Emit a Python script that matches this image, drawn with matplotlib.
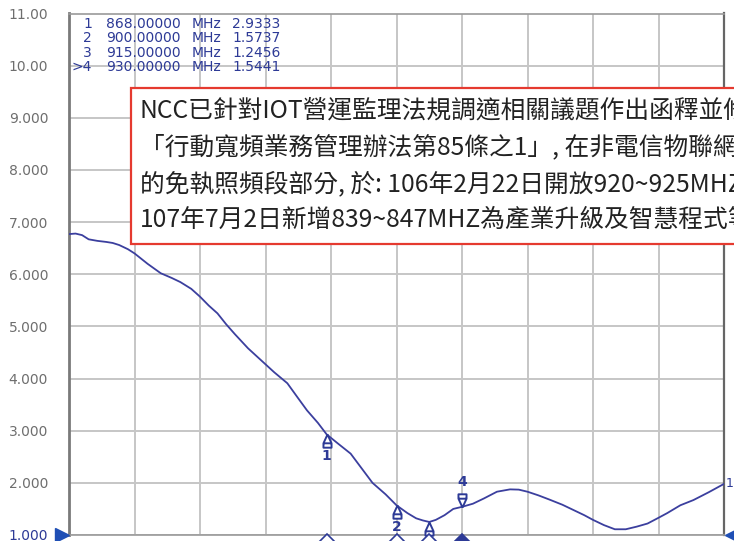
import matplotlib
matplotlib.use("Agg")
import matplotlib.pyplot as plt
import numpy as np
from matplotlib.patches import Rectangle
from matplotlib.path import Path
from matplotlib.transforms import blended_transform_factory

# =========================
# DATA
# =========================
freq_mhz = [750, 753, 756, 759, 763, 767, 770, 773, 777, 780, 786, 792, 797, 801,
            806, 810, 814, 818, 822, 826, 832, 838, 844, 850, 855, 859, 864, 868,
            873, 879, 884, 889, 895, 900, 905, 909, 912, 915, 918, 922, 926, 930,
            935, 940, 946, 952, 956, 960, 965, 970, 976, 981, 986, 990, 995, 1000,
            1005, 1010, 1015, 1020, 1024, 1030, 1036, 1043, 1050]
vswr = [6.77, 6.78, 6.75, 6.67, 6.64, 6.62, 6.60, 6.56, 6.48, 6.40, 6.20, 6.02, 5.93, 5.85,
        5.72, 5.57, 5.40, 5.25, 5.04, 4.85, 4.58, 4.35, 4.12, 3.91, 3.62, 3.39, 3.15, 2.93,
        2.76, 2.56, 2.28, 2.00, 1.78, 1.57, 1.42, 1.32, 1.28, 1.25, 1.29, 1.38, 1.50, 1.54,
        1.60, 1.70, 1.83, 1.875, 1.87, 1.83, 1.76, 1.68, 1.58, 1.48, 1.38, 1.29, 1.19, 1.11,
        1.11, 1.16, 1.22, 1.33, 1.42, 1.57, 1.67, 1.82, 1.98]

marker_ids = ["1", "2", "3", ">4"]
marker_freq = [868.0, 900.0, 915.0, 930.0]
marker_val = [2.9333, 1.5737, 1.2456, 1.5441]

y_ticks = [1, 2, 3, 4, 5, 6, 7, 8, 9, 10, 11]
y_tick_labels = ["1.000", "2.000", "3.000", "4.000", "5.000", "6.000",
                 "7.000", "8.000", "9.000", "10.00", "11.00"]

note_lines = [
    "NCC已針對IOT營運監理法規調適相關議題作出函釋並修",
    "「行動寬頻業務管理辦法第85條之1」, 在非電信物聯網",
    "的免執照頻段部分, 於: 106年2月22日開放920~925MHZ",
    "107年7月2日新增839~847MHZ為產業升級及智慧程式等",
]

# =========================
# STYLE
# =========================
W, H = 734, 541
TRACE = "#3b3f9e"
MARK = "#2d3a96"
GRID = "#c6c6c6"


def fx(px):
    return px / W


def fy(py):
    return 1 - py / H


fig = plt.figure(figsize=(W / 100, H / 100), dpi=100, facecolor="white")
ax = fig.add_axes([fx(69), fy(535), fx(724) - fx(69), fy(13.5) - fy(535)])

# =========================
# GRID / AXES
# =========================
ax.set_xlim(750, 1050)
ax.set_ylim(1, 11)
ax.set_xticks(np.linspace(750, 1050, 11))
ax.set_xticklabels([])
ax.set_yticks(y_ticks)
ax.set_yticklabels(y_tick_labels, family="DejaVu Sans", fontsize=10, color="#6e6e6e",
                   va="center_baseline")
ax.get_yticklabels()[0].set_color(MARK)
ax.tick_params(length=0, pad=15)
ax.grid(True, color=GRID, linewidth=1.4)
for name, sp in ax.spines.items():
    sp.set_color("#9a9a9a")
    sp.set_linewidth(1.2)
ax.spines["left"].set_color("#7a7a7a")
ax.spines["left"].set_linewidth(2.0)
ax.spines["right"].set_color("#666666")
ax.spines["right"].set_linewidth(1.6)

# =========================
# TRACE
# =========================
ax.plot(freq_mhz, vswr, color=TRACE, linewidth=1.3, zorder=3)

# marker symbols: triangle on a small box, apex on the trace
up = Path([(0, 0), (-0.55, -1.2), (-0.55, -1.8), (0.55, -1.8), (0.55, -1.2), (0, 0),
           (-0.55, -1.2), (0.55, -1.2)],
          [Path.MOVETO, Path.LINETO, Path.LINETO, Path.LINETO, Path.LINETO, Path.LINETO,
           Path.MOVETO, Path.LINETO])
down = Path(up.vertices * [1, -1], up.codes)

for i, (f, v) in enumerate(zip(marker_freq, marker_val)):
    label = marker_ids[i].lstrip(">")
    if label == "4":
        ax.plot(f, v, marker=down, markersize=19, markerfacecolor="white",
                markeredgecolor=MARK, markeredgewidth=1.4, zorder=4)
        ax.annotate(label, (f, v), xytext=(0, 18), textcoords="offset points",
                    ha="center", va="center", fontsize=10, color=MARK,
                    family="DejaVu Sans", fontweight="bold")
    else:
        ax.plot(f, v, marker=up, markersize=19, markerfacecolor="white",
                markeredgecolor=MARK, markeredgewidth=1.4, zorder=4,
                clip_on=False)
        if v > 1.4:  # label of marker 3 falls below the visible area
            ax.annotate(label, (f, v), xytext=(0, -16), textcoords="offset points",
                        ha="center", va="center", fontsize=10, color=MARK,
                        family="DejaVu Sans", fontweight="bold")

# stimulus markers on the bottom edge
trans = blended_transform_factory(ax.transData, ax.transAxes)
for i, f in enumerate(marker_freq):
    active = marker_ids[i].startswith(">")
    ax.plot(f, -0.013, marker="D", markersize=8, transform=trans, clip_on=False,
            markerfacecolor=MARK if active else "white", markeredgecolor=MARK,
            markeredgewidth=1.2, zorder=5)

# reference level arrows and trace number
ax.plot(-0.011, 0, marker=">", markersize=10, color="#1f4fb5", transform=ax.transAxes,
        clip_on=False, zorder=5)
ax.plot(1.012, 0, marker="<", markersize=10, color="#1f4fb5", transform=ax.transAxes,
        clip_on=False, zorder=5)
ax.annotate("1", (freq_mhz[-1], vswr[-1]), xytext=(1, 0), textcoords="offset points",
            ha="left", va="center", fontsize=9, color=MARK, family="DejaVu Sans",
            annotation_clip=False)

# =========================
# MARKER TABLE
# =========================
row_y = [24, 38.5, 53, 67]
for i in range(len(marker_ids)):
    y = fy(row_y[i])
    kw = dict(fontsize=10, color=MARK, family="DejaVu Sans", va="center")
    fig.text(fx(92), y, marker_ids[i], ha="right", **kw)
    fig.text(fx(106), y, f"{marker_freq[i]:.5f}", ha="left", **kw)
    fig.text(fx(192), y, "MHz", ha="left", **kw)
    fig.text(fx(232), y, f"{marker_val[i]:.4f}", ha="left", **kw)

# =========================
# NOTE BOX
# =========================
fig.patches.append(Rectangle((fx(131), fy(244)), fx(700), fy(88) - fy(244),
                             transform=fig.transFigure, facecolor="white",
                             edgecolor="#e53a2f", linewidth=1.6, zorder=10))
line_y = [110, 147, 184, 220]
for txt, yy in zip(note_lines, line_y):
    fig.text(fx(140), fy(yy), txt, ha="left", va="center", fontsize=17.8,
             color="#222222", family=["Noto Sans CJK TC", "DejaVu Sans"], zorder=11)

fig.savefig("out.png", dpi=100, facecolor="white")
